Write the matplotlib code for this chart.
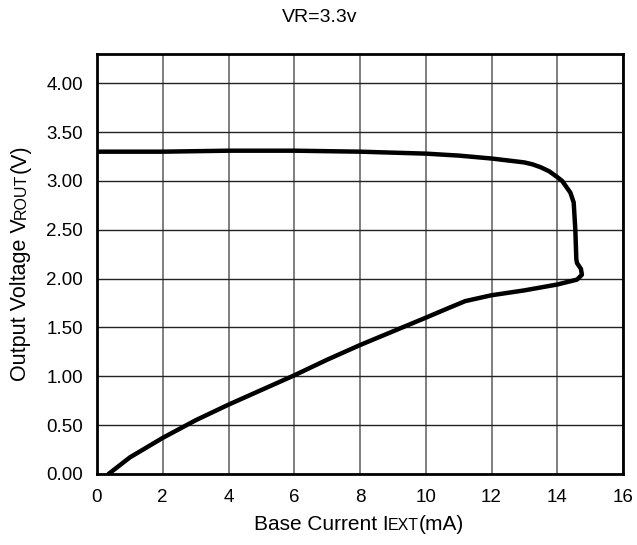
import matplotlib
matplotlib.use('Agg')
import matplotlib.pyplot as plt
from matplotlib.transforms import IdentityTransform

plt.rcParams['font.family'] = ['Liberation Sans', 'DejaVu Sans']

# base current (mA) vs output voltage (V)
current = [0.35, 1.0, 2.0, 3.0, 4.0, 5.0, 6.0, 7.0, 8.0, 9.0, 10.0, 10.7, 11.2,
           12.0, 13.0, 14.0, 14.6, 14.75, 14.72, 14.6, 14.58, 14.55, 14.5,
           14.4, 14.15, 14.0, 13.75, 13.5, 13.25, 13.0, 12.0, 11.0, 10.0,
           8.0, 6.0, 4.0, 2.0, 0.0]
voltage = [0.0, 0.17, 0.37, 0.55, 0.71, 0.86, 1.01, 1.17, 1.32, 1.46, 1.60, 1.70, 1.77,
           1.83, 1.88, 1.94, 1.99, 2.04, 2.10, 2.16, 2.20, 2.50, 2.78,
           2.88, 3.00, 3.04, 3.10, 3.14, 3.17, 3.19, 3.23, 3.26, 3.28,
           3.30, 3.31, 3.31, 3.30, 3.30]

x_ticks = [0, 2, 4, 6, 8, 10, 12, 14, 16]
y_ticks = [0.0, 0.5, 1.0, 1.5, 2.0, 2.5, 3.0, 3.5, 4.0]

W, H = 637, 545
fig = plt.figure(figsize=(W / 100, H / 100), dpi=100)
ax = fig.add_axes([97 / W, (H - 474) / H, (623 - 97) / W, (474 - 54) / H])

ax.plot(current, voltage, color='black', lw=3.2,
        solid_joinstyle='round', solid_capstyle='round', zorder=3)

ax.set_xlim(0, 16)
ax.set_ylim(0, 4.3)
ax.set_xticks(x_ticks)
ax.set_yticks(y_ticks)
ax.set_yticklabels([f'{v:.2f}' for v in y_ticks])
ax.tick_params(length=0, labelsize=13.5, colors='black')
ax.tick_params(axis='y', pad=10)
ax.tick_params(axis='x', pad=11)

ax.grid(axis='x', color='#6a6a6a', lw=1.2)
ax.grid(axis='y', color='#222222', lw=1.0)
for sp in ax.spines.values():
    sp.set_linewidth(2.0)
    sp.set_color('black')

fig.text(320, H - 17, 'VR=3.3v', fontsize=14, ha='center', va='center',
         transform=IdentityTransform())


def label_pieces(pieces, x0, y0, rotation, center):
    renderer = fig.canvas.get_renderer()
    texts = []
    widths = []
    for s, size in pieces:
        t = fig.text(0, 0, s, fontsize=size, ha='left', va='baseline',
                     transform=IdentityTransform(), rotation_mode='anchor')
        widths.append(t.get_window_extent(renderer).width)
        texts.append(t)
    total = sum(widths)
    pos = center - total / 2
    for t, w in zip(texts, widths):
        if rotation:
            t.set_rotation(90)
            t.set_position((x0, pos))
        else:
            t.set_position((pos, y0))
        pos += w


fig.canvas.draw()
label_pieces([('Base Current I', 15), ('EXT', 11.5), ('(mA)', 15)],
             0, H - 530, False, 359)
label_pieces([('Output Voltage V', 15.5), ('ROUT', 11.5), ('(V)', 15.5)],
             26, 0, True, H - 263)

fig.savefig('out.png', dpi=100)
